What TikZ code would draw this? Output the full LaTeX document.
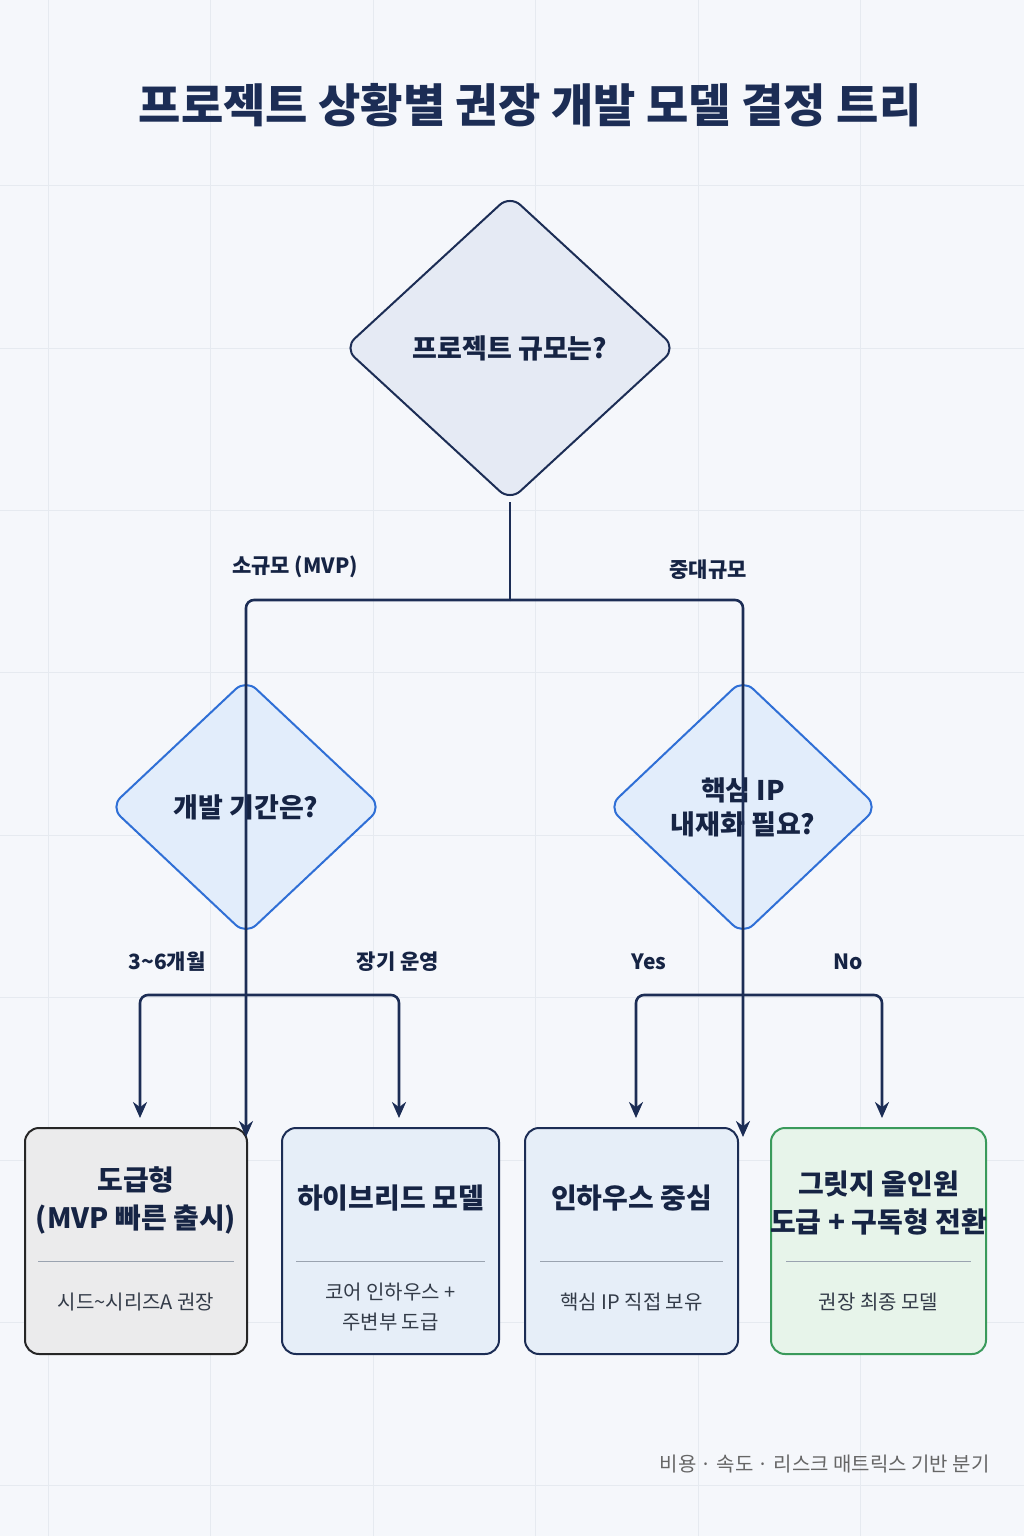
\documentclass[tikz,border=0pt]{standalone}
\usepackage{fontspec}
\setmainfont{Noto Sans CJK KR}
\usetikzlibrary{shapes.geometric,arrows.meta}
\definecolor{bg}{HTML}{F5F7FB}
\definecolor{grid}{HTML}{E6EAF0}
\definecolor{navy}{HTML}{1C2D55}
\definecolor{blue}{HTML}{2F6FD6}
\definecolor{dfill}{HTML}{E5EAF4}
\definecolor{bfill}{HTML}{E2EDFB}
\definecolor{gfill}{HTML}{EBEBEC}
\definecolor{nfill}{HTML}{E6EEF8}
\definecolor{grfill}{HTML}{E7F4EA}
\definecolor{green}{HTML}{3A9A5B}
\definecolor{sep}{HTML}{9AA3B0}
\definecolor{subc}{HTML}{333B48}
\tikzset{
 dia/.style={shape=diamond,inner sep=0pt,rounded corners=14pt,line width=2pt,align=center,font=\bfseries\fontsize{27}{34}\selectfont,text=navy!80!black},
 conn/.style={draw=navy,line width=2.6pt,rounded corners=8pt},
 arr/.style={conn,-{Stealth[length=16pt,width=14pt]}},
 lbl/.style={font=\bfseries\fontsize{21}{26}\selectfont,text=navy!80!black},
 outbox/.style={draw,line width=2pt,rounded corners=14pt,minimum height=226pt},
 ttl/.style={font=\bfseries\fontsize{28}{38}\selectfont,align=center,text=navy!80!black},
 sub/.style={font=\fontsize{20}{30}\selectfont,align=center,text=subc},
}
\begin{document}
\begin{tikzpicture}[x=1pt,y=-1pt]
\fill[bg] (0,0) rectangle (1024,1536);
\useasboundingbox (0,0) rectangle (1024,1536);
\foreach \v in {185,348,510,672,835,997,1160,1322,1485} \draw[grid,line width=0.6pt] (0,\v)--(1024,\v);
\foreach \v in {48,210,373,535,698,860} \draw[grid,line width=0.6pt] (\v,0)--(\v,1536);
\node[font=\bfseries\fontsize{46}{50}\selectfont,text=navy] (title) at (530,105) {프로젝트 상황별 권장 개발 모델 결정 트리};
\node[dia,draw=navy,fill=dfill,minimum width=332pt,minimum height=306pt] (d1) at (510,348) {프로젝트 규모는?};
\node[dia,draw=blue,fill=bfill,minimum width=272pt,minimum height=256pt] (d2) at (246,807) {개발 기간은?};
\node[dia,draw=blue,fill=bfill,minimum width=270pt,minimum height=256pt] (d3) at (743,807) {핵심 IP\\내재화 필요?};
\coordinate (j1) at (510,600);
\coordinate (j2) at (246,995);
\coordinate (j3) at (743,995);
\node[outbox,draw=black!85,fill=gfill,minimum width=222pt] (b1) at (136,1241) {};
\node[outbox,draw=navy,fill=nfill,minimum width=217pt] (b2) at (390.5,1241) {};
\node[outbox,draw=navy,fill=nfill,minimum width=213pt] (b3) at (631.5,1241) {};
\node[outbox,draw=green,fill=grfill,minimum width=215pt] (b4) at (878.5,1241) {};
\draw[conn] (d1.south) -- (j1);
\draw[arr] (j1) -| ([yshift=-10pt]b1.north -| d2.north);
\draw[arr] (j1) -| ([yshift=-10pt]b1.north -| d3.north);
\draw[conn] (d2.south) -- (j2);
\draw[conn] (d3.south) -- (j3);
\draw[arr] (j2) -| (140,1118);
\draw[arr] (j2) -| (399,1118);
\draw[arr] (j3) -| (636,1118);
\draw[arr] (j3) -| (882,1118);
\node[lbl] (l1) at (295,567) {소규모 (MVP)};
\node[lbl] (l2) at (708,570) {중대규모};
\node[lbl] (l3) at (167,962) {3\textasciitilde 6개월};
\node[lbl] (l4) at (398,962) {장기 운영};
\node[lbl] (l5) at (649,962) {Yes};
\node[lbl] (l6) at (848,962) {No};
\node[ttl] (t1) at (136,1200) {도급형\\(MVP 빠른 출시)};
\node[ttl] (t2) at (390.5,1198) {하이브리드 모델};
\node[ttl] (t3) at (631.5,1198) {인하우스 중심};
\node[ttl] (t4) at (878.5,1203) {그릿지 올인원\\도급 + 구독형 전환};
\draw[sep,line width=0.8pt] (38,1261)--(234,1261);
\draw[sep,line width=0.8pt] (296,1261)--(485,1261);
\draw[sep,line width=0.8pt] (540,1261)--(723,1261);
\draw[sep,line width=0.8pt] (786,1261)--(971,1261);
\node[sub] (s1) at (136,1302) {시드\textasciitilde 시리즈A 권장};
\node[sub] (s2) at (390.5,1307) {코어 인하우스 +\\주변부 도급};
\node[sub] (s3) at (631.5,1302) {핵심 IP 직접 보유};
\node[sub] (s4) at (878.5,1302) {권장 최종 모델};
\node[anchor=east,font=\fontsize{20}{24}\selectfont,text=black!60] (foot) at (993,1464) {비용 · 속도 · 리스크 매트릭스 기반 분기};
\end{tikzpicture}
\end{document}
